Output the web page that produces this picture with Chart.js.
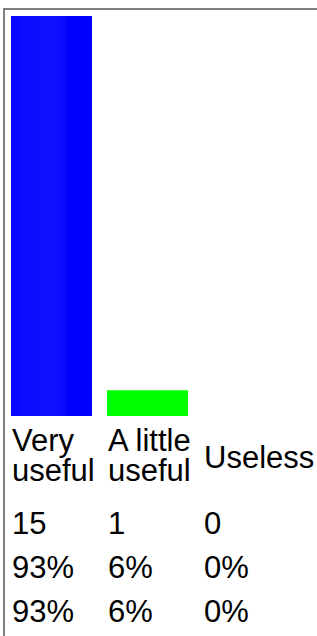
<!DOCTYPE html>
<html><head><meta charset="utf-8">
<script src="https://cdn.jsdelivr.net/npm/chart.js@4/dist/chart.umd.min.js"></script>
<style>
html,body{margin:0;padding:0;background:#fff;width:317px;height:636px;overflow:hidden;}
#frame{position:absolute;left:3px;top:8px;width:316px;height:630px;border-top:2px solid #808080;border-left:2px solid #808080;box-sizing:border-box;}
#chartbox{position:absolute;left:3px;top:0;width:300px;height:420px;}
#tbl{position:absolute;left:11px;top:426px;border-collapse:collapse;font-family:"Liberation Sans",Arial,sans-serif;font-size:31px;color:#000;}
#tbl td{padding:0 0 0 1px;width:96px;vertical-align:top;line-height:30px;white-space:nowrap;box-sizing:border-box;}
#tbl tr.head td{height:83px;}
#tbl tr.data td{height:44px;}
</style>
</head><body>
<div id="frame"></div>
<div id="chartbox"><canvas id="c" width="300" height="420"></canvas></div>
<table id="tbl"></table>
<script>
// ---- data ----
const categories = ['Very useful', 'A little useful', 'Useless'];
const categoryLines = [['Very', 'useful'], ['A little', 'useful'], ['Useless']];
const counts = [15, 1, 0];
const percentOfRespondents = [93, 6, 0];
const percentOfAnswers = [93, 6, 0];
const barColors = ['#0000ff', '#00ff00', '#ff0000'];

// ---- table of labels and numbers ----
const tbl = document.getElementById('tbl');
const head = document.createElement('tr');
head.className = 'head';
categoryLines.forEach(lines => {
  const td = document.createElement('td');
  td.innerHTML = lines.join('<br>');
  if (lines.length === 1) td.style.paddingTop = '17px';
  head.appendChild(td);
});
tbl.appendChild(head);
function addRow(vals, suffix) {
  const tr = document.createElement('tr');
  tr.className = 'data';
  vals.forEach(v => {
    const td = document.createElement('td');
    td.textContent = v + suffix;
    tr.appendChild(td);
  });
  tbl.appendChild(tr);
}
addRow(counts, '');
addRow(percentOfRespondents, '%');
addRow(percentOfAnswers, '%');

// ---- chart ----
const ctx = document.getElementById('c').getContext('2d');
function barFill(context) {
  const chart = context.chart;
  const i = context.dataIndex;
  const base = barColors[i];
  const area = chart.chartArea;
  if (i !== 0 || !area || !isFinite(area.left) || !isFinite(area.right)) return base;
  const cw = (area.right - area.left) / categories.length;
  const w = cw * (81 / 96);
  const cx = area.left + cw * (i + 0.5);
  const g = chart.ctx.createLinearGradient(cx - w / 2, 0, cx + w / 2, 0);
  g.addColorStop(0, '#0606ff');
  g.addColorStop(0.2, '#0c0cff');
  g.addColorStop(0.45, '#1010ff');
  g.addColorStop(0.66, '#0a0aff');
  g.addColorStop(0.7, '#0000ff');
  g.addColorStop(1, '#0000ff');
  return g;
}
new Chart(ctx, {
  type: 'bar',
  data: {
    labels: categories,
    datasets: [{
      data: percentOfRespondents,
      backgroundColor: barFill,
      borderWidth: 0,
      barPercentage: 1,
      categoryPercentage: 81 / 96
    }]
  },
  options: {
    responsive: false,
    animation: false,
    events: [],
    layout: { padding: { left: 0.5, right: 11.5, top: 16, bottom: 4 } },
    plugins: { legend: { display: false }, tooltip: { enabled: false } },
    scales: {
      x: { display: false },
      y: { display: false, min: 0, max: 93 }
    }
  }
});
</script>
</body></html>
